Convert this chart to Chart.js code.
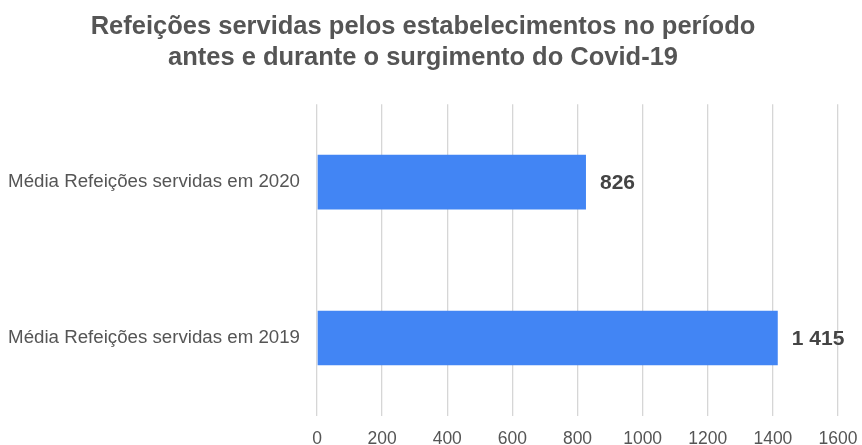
<!DOCTYPE html>
<html>
<head>
<meta charset="utf-8">
<script src="https://cdn.jsdelivr.net/npm/chart.js@4.4.0/dist/chart.umd.min.js"></script>
<style>
  html, body { margin: 0; padding: 0; background: #fff; overflow: hidden; }
  #wrap { width: 862px; height: 462px; }
</style>
</head>
<body>
<div id="wrap"><canvas id="bar-chart"></canvas></div>
<script>
const categories = ['Média Refeições servidas em 2020', 'Média Refeições servidas em 2019'];
const mealValues = [826, 1415];
const titleLines = ['Refeições servidas pelos estabelecimentos no período', 'antes e durante o surgimento do Covid-19'];

// numbers with a space as thousands separator, like "1 415"
const fmt = v => String(v).replace(/\B(?=(\d{3})+(?!\d))/g, ' ');

const valueLabels = {
    id: 'valueLabels',
    afterDatasetsDraw(chart) {
        const ctx = chart.ctx;
        const meta = chart.getDatasetMeta(0);
        ctx.save();
        ctx.font = 'bold 21px "Liberation Sans", Arial, sans-serif';
        ctx.fillStyle = '#444444';
        ctx.textAlign = 'left';
        ctx.textBaseline = 'middle';
        meta.data.forEach((bar, i) => {
            ctx.fillText(fmt(mealValues[i]), bar.x + 14, bar.y + 1);
        });
        ctx.restore();
    }
};

const barChartCanvas = document.querySelector('#bar-chart');

new Chart(barChartCanvas.getContext('2d'), {
    type: 'bar',
    data: {
        labels: categories,
        datasets: [{
            data: mealValues,
            backgroundColor: '#4285f4',
            borderWidth: 0,
            categoryPercentage: 1,
            barPercentage: 0.35
        }]
    },
    options: {
        indexAxis: 'y',
        responsive: true,
        maintainAspectRatio: false,
        animation: false,
        layout: { padding: { left: 8, right: 24, top: 0, bottom: 0 } },
        plugins: {
            legend: { display: false },
            tooltip: { enabled: false },
            title: {
                display: true,
                text: titleLines,
                color: '#555555',
                font: { family: '"Liberation Sans", Arial, sans-serif', size: 25.5, weight: 'bold', lineHeight: 1.2 },
                padding: { top: 12, bottom: 31 }
            }
        },
        scales: {
            x: {
                min: 0,
                max: 1600,
                // let the last tick label hang over the right edge, like the original
                afterFit: scale => { scale.paddingRight = 0; },
                ticks: {
                    stepSize: 200,
                    color: '#555555',
                    padding: 12.5,
                    font: { family: '"Liberation Sans", Arial, sans-serif', size: 17.5 },
                    callback: value => String(value)
                },
                grid: { color: '#d6d6d6', lineWidth: 1.3, drawTicks: false },
                border: { display: false }
            },
            y: {
                afterFit: scale => { scale.width = 309; },
                ticks: {
                    color: '#555555',
                    padding: 9,
                    font: { family: '"Liberation Sans", Arial, sans-serif', size: 18.7 }
                },
                grid: { display: false },
                border: { display: false }
            }
        }
    },
    plugins: [valueLabels]
});
</script>
</body>
</html>
